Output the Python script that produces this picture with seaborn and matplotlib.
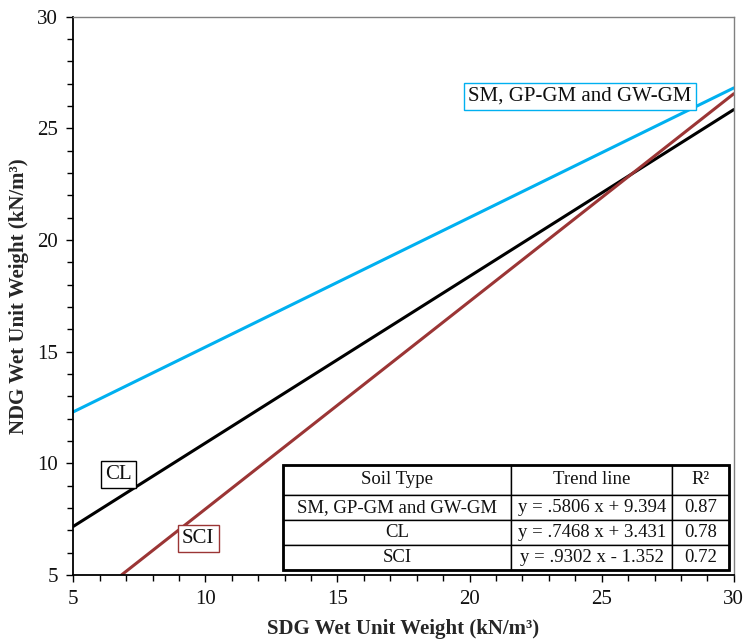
import numpy as np
import pandas as pd
import matplotlib
matplotlib.use("Agg")
import matplotlib.pyplot as plt
from matplotlib.ticker import MultipleLocator
from matplotlib.patches import Rectangle
import seaborn as sns

# trend line end points
soil_types = ["SM, GP-GM and GW-GM", "CL", "SCI"]
x_start = [5.0, 5.0, 6.83]
y_start = [12.30, 7.17, 5.0]
x_end = [30.0, 30.0, 30.0]
y_end = [26.81, 25.84, 26.55]

# table text
trend_lines = ["y = .5806 x + 9.394", "y = .7468 x + 3.431", "y = .9302 x - 1.352"]
r_squared = ["0.87", "0.78", "0.72"]

# label positions (data coords)
label_x = [24.17, 6.70, 9.73]
label_y = [26.44, 9.50, 6.64]

colors = ["#00B0F0", "#000000", "#9B3535"]

rows = []
for i, s in enumerate(soil_types):
    rows.append({"soil": s, "x": x_start[i], "y": y_start[i]})
    rows.append({"soil": s, "x": x_end[i], "y": y_end[i]})
df = pd.DataFrame(rows)

sns.set_theme(style="white")
plt.rcParams["font.family"] = ["Liberation Serif", "DejaVu Serif"]

fig = plt.figure(figsize=(7.48, 6.43), dpi=100)
ax = fig.add_axes([0.098, 0.106, 0.883, 0.868])

sns.lineplot(data=df, x="x", y="y", hue="soil", palette=colors,
             hue_order=soil_types, linewidth=2.2, legend=False, ax=ax)

ax.set_xlim(5, 30)
ax.set_ylim(5, 30)
ax.xaxis.set_major_locator(MultipleLocator(5))
ax.xaxis.set_minor_locator(MultipleLocator(1))
ax.yaxis.set_major_locator(MultipleLocator(5))
ax.yaxis.set_minor_locator(MultipleLocator(1))
ax.tick_params(which="both", direction="out", bottom=True, left=True,
               top=False, right=False, color="black", width=1,
               labelsize=15, labelcolor="#111111")
ax.tick_params(which="major", length=5, pad=6)
ax.tick_params(which="minor", length=4)

for side in ["left", "bottom"]:
    ax.spines[side].set_color("black")
    ax.spines[side].set_linewidth(1.3)
for side in ["top", "right"]:
    ax.spines[side].set_color("#808080")
    ax.spines[side].set_linewidth(1.0)

ax.set_xlabel("SDG Wet Unit Weight (kN/m³)", fontsize=15, fontweight="bold", labelpad=7)
ax.set_ylabel("NDG Wet Unit Weight (kN/m³)", fontsize=15, fontweight="bold", labelpad=6)

# series labels
for i, s in enumerate(soil_types):
    ax.text(label_x[i], label_y[i], s, fontsize=15, ha="center", va="center",
            color="#111111",
            bbox=dict(boxstyle="square,pad=0.2", facecolor="white",
                      edgecolor=colors[i], linewidth=1.0))

# table
cell_text = [[soil_types[i], trend_lines[i], r_squared[i]] for i in range(3)]
tbl = ax.table(cellText=cell_text, colLabels=["Soil Type", "Trend line", "R²"],
               cellLoc="center", colWidths=[0.513, 0.361, 0.126],
               bbox=[0.317, 0.009, 0.675, 0.188])
tbl.auto_set_font_size(False)
for (r, c), cell in tbl.get_celld().items():
    cell.set_fontsize(13.5)
    cell.set_edgecolor("black")
    cell.set_linewidth(1.0)
    cell.set_facecolor("white")
    cell.get_text().set_color("#111111")
    if r == 0:
        cell.set_height(0.30)
    else:
        cell.set_height(0.25)
ax.add_patch(Rectangle((0.317, 0.009), 0.675, 0.188, transform=ax.transAxes,
                       fill=False, edgecolor="black", linewidth=2.0, zorder=5))

fig.savefig("out.png", dpi=100)
